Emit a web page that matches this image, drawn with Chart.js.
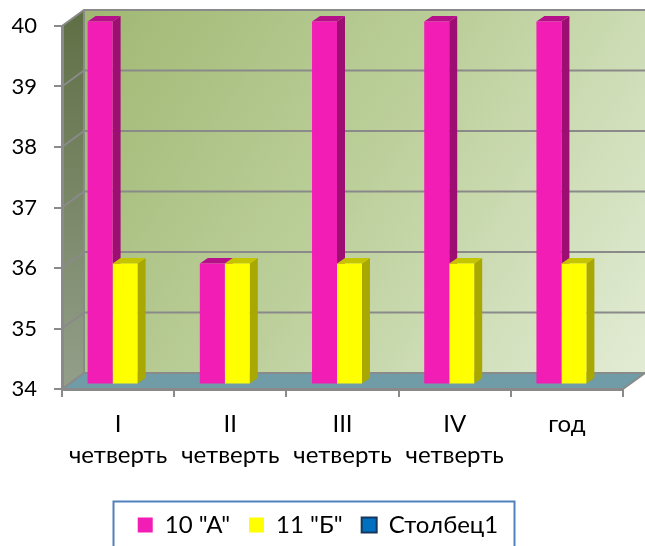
<!DOCTYPE html>
<html lang="ru">
<head>
<meta charset="utf-8">
<title>Столбцы</title>
<script src="https://cdn.jsdelivr.net/npm/chart.js@4"></script>
<style>
    html, body { margin: 0; padding: 0; background: #fff; overflow: hidden; }
    canvas { display: block; }
</style>
</head>
<body>
<canvas id="chart" width="645" height="546"></canvas>
<script>
// Данные диаграммы
const categories = [['I', 'четверть'], ['II', 'четверть'], ['III', 'четверть'], ['IV', 'четверть'], 'год'];
const seriesA = [40, 36, 40, 40, 40];
const seriesB = [36, 36, 36, 36, 36];
const seriesC = [null, null, null, null, null];
const seriesNames = ['10 "А"', '11 "Б"', 'Столбец1'];
const yTicks = [34, 35, 36, 37, 38, 39, 40];

// Глубина стенок и столбцов
const WALL_DX = 22, WALL_DY = 16;
const BAR_SHIFT_X = 7, BAR_SHIFT_Y = 4.5;
const BAR_DX = 8, BAR_DY = 5.5;
const GRID_COLOR = '#8a8a8a';
const FONT = 'Lato, "Noto Sans", sans-serif';
const sideColors = ['#9c0e72', '#a8a800', '#0b4f80'];
const topColors = ['#b5108a', '#c4c400', '#0d5c96'];

// Стенки, пол и линии сетки
const wallsPlugin = {
    id: 'walls',
    beforeDraw(chart) {
        const { ctx, chartArea: a, scales } = chart;
        const y = scales.y;
        ctx.save();

        const back = ctx.createLinearGradient(a.left + WALL_DX, a.top - WALL_DY, a.right + WALL_DX, a.bottom - WALL_DY);
        back.addColorStop(0, '#a0b873');
        back.addColorStop(0.5, '#bdd09c');
        back.addColorStop(1, '#e2ecd5');
        ctx.fillStyle = back;
        ctx.fillRect(a.left + WALL_DX, a.top - WALL_DY, a.right - a.left, a.bottom - a.top);

        const side = ctx.createLinearGradient(0, a.top - WALL_DY, 0, a.bottom);
        side.addColorStop(0, '#5f6f44');
        side.addColorStop(1, '#949f8a');
        ctx.fillStyle = side;
        ctx.beginPath();
        ctx.moveTo(a.left, a.top);
        ctx.lineTo(a.left + WALL_DX, a.top - WALL_DY);
        ctx.lineTo(a.left + WALL_DX, a.bottom - WALL_DY);
        ctx.lineTo(a.left, a.bottom);
        ctx.closePath();
        ctx.fill();

        ctx.fillStyle = '#709ca8';
        ctx.beginPath();
        ctx.moveTo(a.left, a.bottom);
        ctx.lineTo(a.left + WALL_DX, a.bottom - WALL_DY);
        ctx.lineTo(a.right + WALL_DX, a.bottom - WALL_DY);
        ctx.lineTo(a.right, a.bottom);
        ctx.closePath();
        ctx.fill();

        ctx.strokeStyle = GRID_COLOR;
        ctx.lineWidth = 2;
        yTicks.forEach(t => {
            const py = y.getPixelForValue(t);
            ctx.beginPath();
            ctx.moveTo(a.left, py);
            ctx.lineTo(a.left + WALL_DX, py - WALL_DY);
            ctx.lineTo(a.right + WALL_DX, py - WALL_DY);
            ctx.stroke();
        });
        ctx.beginPath();
        ctx.moveTo(a.left + WALL_DX, a.top - WALL_DY);
        ctx.lineTo(a.left + WALL_DX, a.bottom - WALL_DY);
        ctx.stroke();
        ctx.beginPath();
        ctx.moveTo(a.right, a.bottom);
        ctx.lineTo(a.right + WALL_DX, a.bottom - WALL_DY);
        ctx.stroke();
        ctx.restore();
    },
    // Столбцы стоят в середине глубины пола; боковые грани рисуем раньше передних
    beforeDatasetsDraw(chart) {
        const { ctx } = chart;
        ctx.save();
        ctx.translate(BAR_SHIFT_X, -BAR_SHIFT_Y);
        chart.data.datasets.forEach((dataset, index) => {
            chart.getDatasetMeta(index).data.forEach((bar, i) => {
                if (dataset.data[i] === null) return;
                const left = bar.x - bar.width / 2;
                const right = bar.x + bar.width / 2;
                ctx.fillStyle = sideColors[index];
                ctx.beginPath();
                ctx.moveTo(right, bar.y);
                ctx.lineTo(right + BAR_DX, bar.y - BAR_DY);
                ctx.lineTo(right + BAR_DX, bar.base - BAR_DY);
                ctx.lineTo(right, bar.base);
                ctx.closePath();
                ctx.fill();
                ctx.fillStyle = topColors[index];
                ctx.beginPath();
                ctx.moveTo(left, bar.y);
                ctx.lineTo(left + BAR_DX, bar.y - BAR_DY);
                ctx.lineTo(right + BAR_DX, bar.y - BAR_DY);
                ctx.lineTo(right, bar.y);
                ctx.closePath();
                ctx.fill();
            });
        });
    },
    afterDatasetsDraw(chart) {
        chart.ctx.restore();
    },
    // Легенда сдвинута вручную, рамка выходит за нижний край
    afterLayout(chart) {
        chart.legend.top = 494;
        chart.legend.left += 6.5;
        chart.legend.right += 6.5;
    },
    afterDraw(chart) {
        const { ctx } = chart;
        ctx.save();
        ctx.strokeStyle = '#4f81bd';
        ctx.lineWidth = 2;
        ctx.strokeRect(113.5, 501.5, 401, 60);
        ctx.restore();
    }
};

new Chart(document.getElementById('chart'), {
    type: 'bar',
    plugins: [wallsPlugin],
    data: {
        labels: categories,
        datasets: [
            { label: seriesNames[0], data: seriesA, backgroundColor: '#f21db5', base: yTicks[0], clip: false },
            { label: seriesNames[1], data: seriesB, backgroundColor: '#ffff00', base: yTicks[0], clip: false },
            { label: seriesNames[2], data: seriesC, backgroundColor: '#0070c0', borderColor: '#17375e', borderWidth: 2, base: yTicks[0], clip: false }
        ]
    },
    options: {
        responsive: false,
        animation: false,
        layout: { padding: { left: 0, right: 22, top: 26, bottom: 0 } },
        datasets: { bar: { barPercentage: 1, categoryPercentage: 0.668 } },
        plugins: {
            title: { display: false },
            tooltip: { enabled: false },
            legend: {
                position: 'bottom',
                labels: {
                    color: '#000',
                    boxWidth: 15,
                    boxHeight: 15,
                    padding: 19,
                    font: { family: FONT, size: 24 }
                }
            }
        },
        scales: {
            x: {
                afterFit(scale) {
                    scale.height = 104;
                    scale.paddingLeft = 0;
                    scale.paddingRight = 0;
                },
                grid: { drawOnChartArea: false, color: GRID_COLOR, lineWidth: 2, tickLength: 8 },
                border: { color: GRID_COLOR, width: 3 },
                ticks: {
                    color: '#000',
                    padding: 12,
                    maxRotation: 0,
                    autoSkip: false,
                    font: { family: FONT, size: 24, lineHeight: 1.29 }
                }
            },
            y: {
                min: yTicks[0],
                max: yTicks[yTicks.length - 1],
                afterFit(scale) {
                    scale.width = 62;
                    scale.paddingTop = 0;
                    scale.paddingBottom = 0;
                },
                afterBuildTicks(scale) { scale.ticks = yTicks.map(v => ({ value: v })); },
                grid: { drawOnChartArea: false, color: GRID_COLOR, lineWidth: 2, tickLength: 8 },
                border: { color: GRID_COLOR, width: 3 },
                ticks: {
                    color: '#000',
                    padding: 17,
                    font: { family: FONT, size: 22 }
                }
            }
        }
    }
});
</script>
</body>
</html>
